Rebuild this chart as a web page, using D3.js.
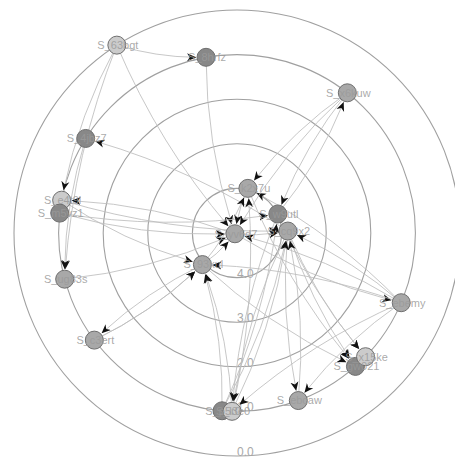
<!DOCTYPE html>
<html><head><meta charset="utf-8">
<script src="https://cdn.jsdelivr.net/npm/d3@7/dist/d3.min.js"></script>
<style>body{margin:0;background:#fff}svg{display:block}</style>
</head><body>
<svg id="chart" width="455" height="461"></svg>
<script>
// ---- data ----
const ringValues = [0, 1, 2, 3, 4];
const ringLabels = ["0.0", "1.0", "2.0", "3.0", "4.0"];
const nodeNames  = ["S_63bgt","S_8hrfz","S_x6kuw","S_4jbz7","S_e4t9i","S_m5vz1","S_ug83s","S_c3ert",
                    "S_k2x7u","S_w9utl","S_cq9x2","S_yv6d7","S_93kul","S_ebemy","S_gw021","S_x15ke",
                    "S_ebcaw","S_p5r0","S_l3e0"];
const nodeValues = [0, 1, 1, 1, 1, 1, 1, 1, 3.97, 3.99, 3.86, 4.95, 3.95, 1, 1, 1, 1, 1, 1];
const nodeAngles = [327.4, 350, 38.2, 302, 280.6, 276.4, 255, 233.1, 13.7, 65, 87.8, 250, 227.6,
                    113, 138.4, 133.9, 159.9, 184.8, 181.6];
const nodeGroups = ["light","dark","mid","dark","light","dark","mid","mid","mid","dark","mid","mid","mid",
                    "mid","dark","light","mid","dark","light"];
const edgeSources = ["S_63bgt","S_63bgt","S_63bgt","S_63bgt","S_8hrfz","S_4jbz7","S_cq9x2","S_yv6d7",
  "S_e4t9i","S_m5vz1","S_m5vz1","S_e4t9i","S_ug83s","S_93kul","S_c3ert","S_c3ert",
  "S_p5r0","S_p5r0","S_l3e0","S_l3e0","S_p5r0","S_cq9x2","S_w9utl",
  "S_ebemy","S_ebemy","S_yv6d7","S_ebemy","S_ebemy","S_ebemy","S_ebemy",
  "S_cq9x2","S_w9utl","S_k2x7u","S_93kul","S_cq9x2","S_cq9x2",
  "S_x6kuw","S_x6kuw","S_w9utl","S_x6kuw",
  "S_k2x7u","S_93kul","S_yv6d7","S_93kul","S_w9utl","S_ebcaw","S_l3e0"];
const edgeTargets = ["S_8hrfz","S_yv6d7","S_e4t9i","S_ug83s","S_yv6d7","S_ug83s","S_4jbz7","S_e4t9i",
  "S_cq9x2","S_yv6d7","S_w9utl","S_93kul","S_yv6d7","S_c3ert","S_93kul","S_93kul",
  "S_cq9x2","S_w9utl","S_k2x7u","S_93kul","S_93kul","S_l3e0","S_l3e0",
  "S_k2x7u","S_yv6d7","S_ebemy","S_ebcaw","S_93kul","S_cq9x2","S_l3e0",
  "S_x15ke","S_x15ke","S_gw021","S_gw021","S_gw021","S_ebcaw",
  "S_k2x7u","S_w9utl","S_x6kuw","S_yv6d7",
  "S_yv6d7","S_yv6d7","S_cq9x2","S_k2x7u","S_cq9x2","S_cq9x2","S_cq9x2"];

// ---- drawing ----
const svg = d3.select("#chart");
const cx = 237, cy = 233, nodeR = 9;
const rScale = d3.scaleLinear().domain([0, 5]).range([223, 0]);
const shade = d3.scaleOrdinal().domain(["light","mid","dark"]).range(["#cbcbcb","#a8a8a8","#888888"]);

const nodes = nodeNames.map((n, i) => {
  const a = nodeAngles[i] * Math.PI / 180, r = rScale(nodeValues[i]);
  return {name: n, group: nodeGroups[i], x: cx + r * Math.sin(a), y: cy - r * Math.cos(a)};
});
const byName = new Map(nodes.map(d => [d.name, d]));
const edges = edgeSources.map((s, i) => ({s: byName.get(s), t: byName.get(edgeTargets[i])}));

svg.append("defs").append("marker")
  .attr("id", "arr").attr("viewBox", "0 -5 10 10").attr("refX", 10).attr("refY", 0)
  .attr("markerWidth", 9).attr("markerHeight", 9).attr("markerUnits", "userSpaceOnUse")
  .attr("orient", "auto")
  .append("path").attr("d", "M0,-4.5L10,0L0,4.5L3,0Z").attr("fill", "#111");

// rings
svg.append("g").selectAll("circle").data(ringValues).join("circle")
  .attr("cx", cx).attr("cy", cy).attr("r", d => rScale(d))
  .attr("fill", "none").attr("stroke", "#a0a0a0").attr("stroke-width", 1.1);
svg.append("g").selectAll("text").data(ringValues).join("text")
  .attr("x", cx).attr("y", d => cy + rScale(d))
  .attr("font-family", "Liberation Sans, Arial, sans-serif").attr("font-size", 12)
  .attr("fill", "#a8a8a8").text((d, i) => ringLabels[i]);

// edges (gentle quadratic curves, trimmed to node border)
function qpt(p0, c, p1, t) {
  const u = 1 - t;
  return [u*u*p0[0] + 2*u*t*c[0] + t*t*p1[0], u*u*p0[1] + 2*u*t*c[1] + t*t*p1[1]];
}
function edgePath(e) {
  const p0 = [e.s.x, e.s.y], p1 = [e.t.x, e.t.y];
  const dx = p1[0]-p0[0], dy = p1[1]-p0[1], len = Math.hypot(dx, dy);
  const k = 0.08;
  const c = [(p0[0]+p1[0])/2 - dy*k, (p0[1]+p1[1])/2 + dx*k];
  // find t where distance to target = nodeR + 1
  let lo = 0, hi = 1;
  for (let i = 0; i < 30; i++) {
    const m = (lo + hi) / 2, p = qpt(p0, c, p1, m);
    if (Math.hypot(p[0]-p1[0], p[1]-p1[1]) > nodeR + 1) lo = m; else hi = m;
  }
  const t = lo;
  // sub-curve 0..t of quadratic: control = lerp(p0,c,t)
  const c2 = [p0[0] + (c[0]-p0[0])*t, p0[1] + (c[1]-p0[1])*t];
  const e2 = qpt(p0, c, p1, t);
  return `M${p0[0]},${p0[1]}Q${c2[0]},${c2[1]} ${e2[0]},${e2[1]}`;
}
svg.append("g").selectAll("path").data(edges).join("path")
  .attr("d", edgePath).attr("fill", "none")
  .attr("stroke", "#bdbdbd").attr("stroke-opacity", 0.85).attr("stroke-width", 1)
  .attr("marker-end", "url(#arr)");

// nodes
svg.append("g").selectAll("circle").data(nodes).join("circle")
  .attr("cx", d => d.x).attr("cy", d => d.y).attr("r", nodeR)
  .attr("fill", d => shade(d.group)).attr("stroke", "#6e6e6e").attr("stroke-width", 1);
svg.append("g").selectAll("text").data(nodes).join("text")
  .attr("x", d => d.x + 1).attr("y", d => d.y).attr("dy", "0.35em")
  .attr("text-anchor", "middle")
  .attr("font-family", "Liberation Sans, Arial, sans-serif").attr("font-size", 11)
  .attr("fill", "#9a9a9a").attr("fill-opacity", 0.85).text(d => d.name);
</script>
</body></html>
